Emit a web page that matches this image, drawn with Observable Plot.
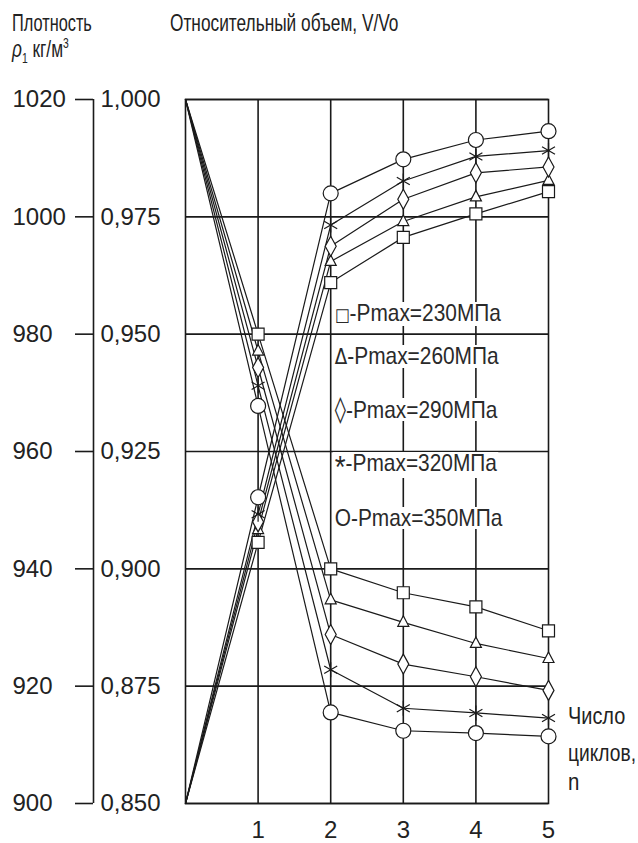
<!DOCTYPE html>
<html>
<head>
<meta charset="utf-8">
<script src="https://cdn.jsdelivr.net/npm/d3@7"></script>
<script src="https://cdn.jsdelivr.net/npm/@observablehq/plot@0.6"></script>
<style>
  html, body { margin: 0; padding: 0; background: #fff; }
  #wrap { position: relative; width: 638px; height: 843px; overflow: hidden; font-family: "Liberation Sans", Arial, sans-serif; color: #222; }
  #wrap svg { position: absolute; left: 0; top: 0; }
  .lbl { position: absolute; font-size: 24px; line-height: 24px; white-space: nowrap; transform-origin: 0 50%; }
  .leg { position: absolute; font-size: 24px; line-height: 22px; white-space: nowrap; background: #fff; padding: 0 2px; transform-origin: 0 50%; color: #2a2a2a; }
  .sym { font-family: "DejaVu Sans", sans-serif; font-size: 18px; }
  .tri { font-family: "DejaVu Sans", sans-serif; font-size: 21px; }
  .dia { font-family: "DejaVu Sans", sans-serif; font-size: 26px; }
  .ast { font-size: 32px; vertical-align: -7px; }
  sub, sup { font-size: 60%; line-height: 0; }
</style>
</head>
<body>
<div id="wrap"></div>
<script>
// ---- data ----
const cycles = [0, 1, 2, 3, 4, 5];
const pressures = [230, 260, 290, 320, 350];
const legendSymbols = ["□", "Δ", "◊", "*", "O"];
const legendLabels = ["-Pmax=230МПа", "-Pmax=260МПа", "-Pmax=290МПа", "-Pmax=320МПа", "-Pmax=350МПа"];

// relative volume V/Vo
const vol230 = [1.000, 0.9500, 0.9000, 0.8949, 0.8919, 0.8868];
const vol260 = [1.000, 0.9464, 0.8934, 0.8886, 0.8841, 0.8809];
const vol290 = [1.000, 0.9429, 0.8860, 0.8797, 0.8770, 0.8741];
const vol320 = [1.000, 0.9390, 0.8785, 0.8703, 0.8693, 0.8682];
const vol350 = [1.000, 0.9347, 0.8694, 0.8655, 0.8650, 0.8643];

// density, kg/m3
const rho230 = [900, 944.5, 988.8, 996.5, 1000.5, 1004.3];
const rho260 = [900, 946.7, 992.4, 999.2, 1003.4, 1006.2];
const rho290 = [900, 948.0, 995.0, 1003.0, 1007.5, 1008.5];
const rho320 = [900, 949.3, 998.6, 1006.1, 1010.3, 1011.3];
const rho350 = [900, 952.2, 1004.0, 1009.8, 1013.1, 1014.6];

const volTicks = [0.850, 0.875, 0.900, 0.925, 0.950, 0.975, 1.000];
const densityTicks = [900, 920, 940, 960, 980, 1000, 1020];
const cycleTicks = [1, 2, 3, 4, 5];
const gridCycles = [1, 2, 3, 4];

const volumeSeries = [vol230, vol260, vol290, vol320, vol350];
const densitySeries = [rho230, rho260, rho290, rho320, rho350];

// density axis maps 900..1020 onto 0.850..1.000
const rhoToV = r => 0.85 + (r - 900) * 0.15 / 120;
const vToRho = v => String(Math.round(900 + (v - 0.85) * 120 / 0.15));

const rows = pressures.flatMap((p, i) => cycles.map((n, j) => ({
  p, n, v: volumeSeries[i][j], rho: densitySeries[i][j]
})));

// ---- symbols ----
const symbols = [
  {draw(c) { c.rect(-6, -6, 12, 12); }},
  {draw(c) { c.moveTo(0, -6.5); c.lineTo(5.5, 4); c.lineTo(-5.5, 4); c.closePath(); }},
  {draw(c) { c.moveTo(0, -10); c.lineTo(5.5, 0); c.lineTo(0, 10); c.lineTo(-5.5, 0); c.closePath(); }},
  {draw(c) {
    const r = 7.5;
    for (const a of [90, 30, 150]) {
      const t = a * Math.PI / 180;
      c.moveTo(-r * Math.cos(t), -r * Math.sin(t));
      c.lineTo(r * Math.cos(t), r * Math.sin(t));
    }
  }},
  {draw(c) { c.moveTo(7.5, 0); c.arc(0, 0, 7.5, 0, 2 * Math.PI); }}
];

const ink = "#1a1a1a";
const gridStyle = {stroke: ink, strokeOpacity: 1, strokeWidth: 1.6};

const markers = pressures.flatMap((p, i) => {
  const pts = rows.filter(d => d.p === p && d.n > 0);
  return [
    Plot.dot(pts, {x: "n", y: "v", symbol: symbols[i], r: 5, fill: "white", stroke: ink, strokeWidth: 1.2}),
    Plot.dot(pts, {x: "n", y: d => rhoToV(d.rho), symbol: symbols[i], r: 5, fill: "white", stroke: ink, strokeWidth: 1.2})
  ];
});

const chart = Plot.plot({
  width: 638,
  height: 843,
  marginTop: 99,
  marginBottom: 40,
  marginLeft: 185,
  marginRight: 90,
  style: {fontFamily: "'Liberation Sans', Arial, sans-serif", fontSize: "24px", color: "#222", background: "white"},
  x: {domain: [0, 5]},
  y: {domain: [0.85, 1.0]},
  marks: [
    Plot.gridY(volTicks, gridStyle),
    Plot.gridX(gridCycles, gridStyle),
    Plot.frame({stroke: ink, strokeWidth: 1.6}),
    Plot.ruleX([0], {y1: 0.85, y2: 1.0, dx: -92, stroke: ink, strokeWidth: 1.6}),
    Plot.axisY(volTicks, {anchor: "left", tickSize: 0, tickPadding: 3, dx: -82, textAnchor: "start",
      tickFormat: d => d.toFixed(3).replace(".", ","), label: null, fontSize: 24}),
    Plot.axisY(densityTicks.map(rhoToV), {anchor: "left", tickSize: 18, tickPadding: 63, dx: -92, textAnchor: "start",
      tickFormat: vToRho, label: null, stroke: ink, strokeWidth: 1.6, fontSize: 24}),
    Plot.axisX(cycleTicks, {anchor: "bottom", tickSize: 0, tickPadding: 17, label: null, fontSize: 24}),
    Plot.line(rows, {x: "n", y: "v", z: "p", stroke: ink, strokeWidth: 1.2}),
    Plot.line(rows, {x: "n", y: d => rhoToV(d.rho), z: "p", stroke: ink, strokeWidth: 1.2}),
    ...markers
  ]
});

const wrap = document.getElementById("wrap");
wrap.appendChild(chart);

function addLabel(html, left, top, scale, cls = "lbl") {
  const el = document.createElement("div");
  el.className = cls;
  el.innerHTML = html;
  el.style.left = left + "px";
  el.style.top = top + "px";
  el.style.transform = `scaleX(${scale})`;
  wrap.appendChild(el);
}

addLabel("Плотность", 12, 11, 0.68);
addLabel("<i>ρ</i><sub>1</sub> кг/м<sup>3</sup>", 12, 37, 0.72);
addLabel("Относительный объем, V/Vo", 170, 11, 0.72);

const symClass = {"□": "sym", "Δ": "tri", "◊": "dia", "*": "ast"};
const legendTops = [302, 345, 398, 452, 507];
legendLabels.forEach((t, i) => {
  const s = legendSymbols[i];
  const symHtml = symClass[s] ? `<span class="${symClass[s]}">${s}</span>` : s;
  addLabel(symHtml + t, 333, legendTops[i], 0.87, "leg");
});

addLabel("Число", 568, 704, 0.83);
addLabel("циклов,", 568, 741, 0.8);
addLabel("n", 568, 770, 0.85);
</script>
</body>
</html>
